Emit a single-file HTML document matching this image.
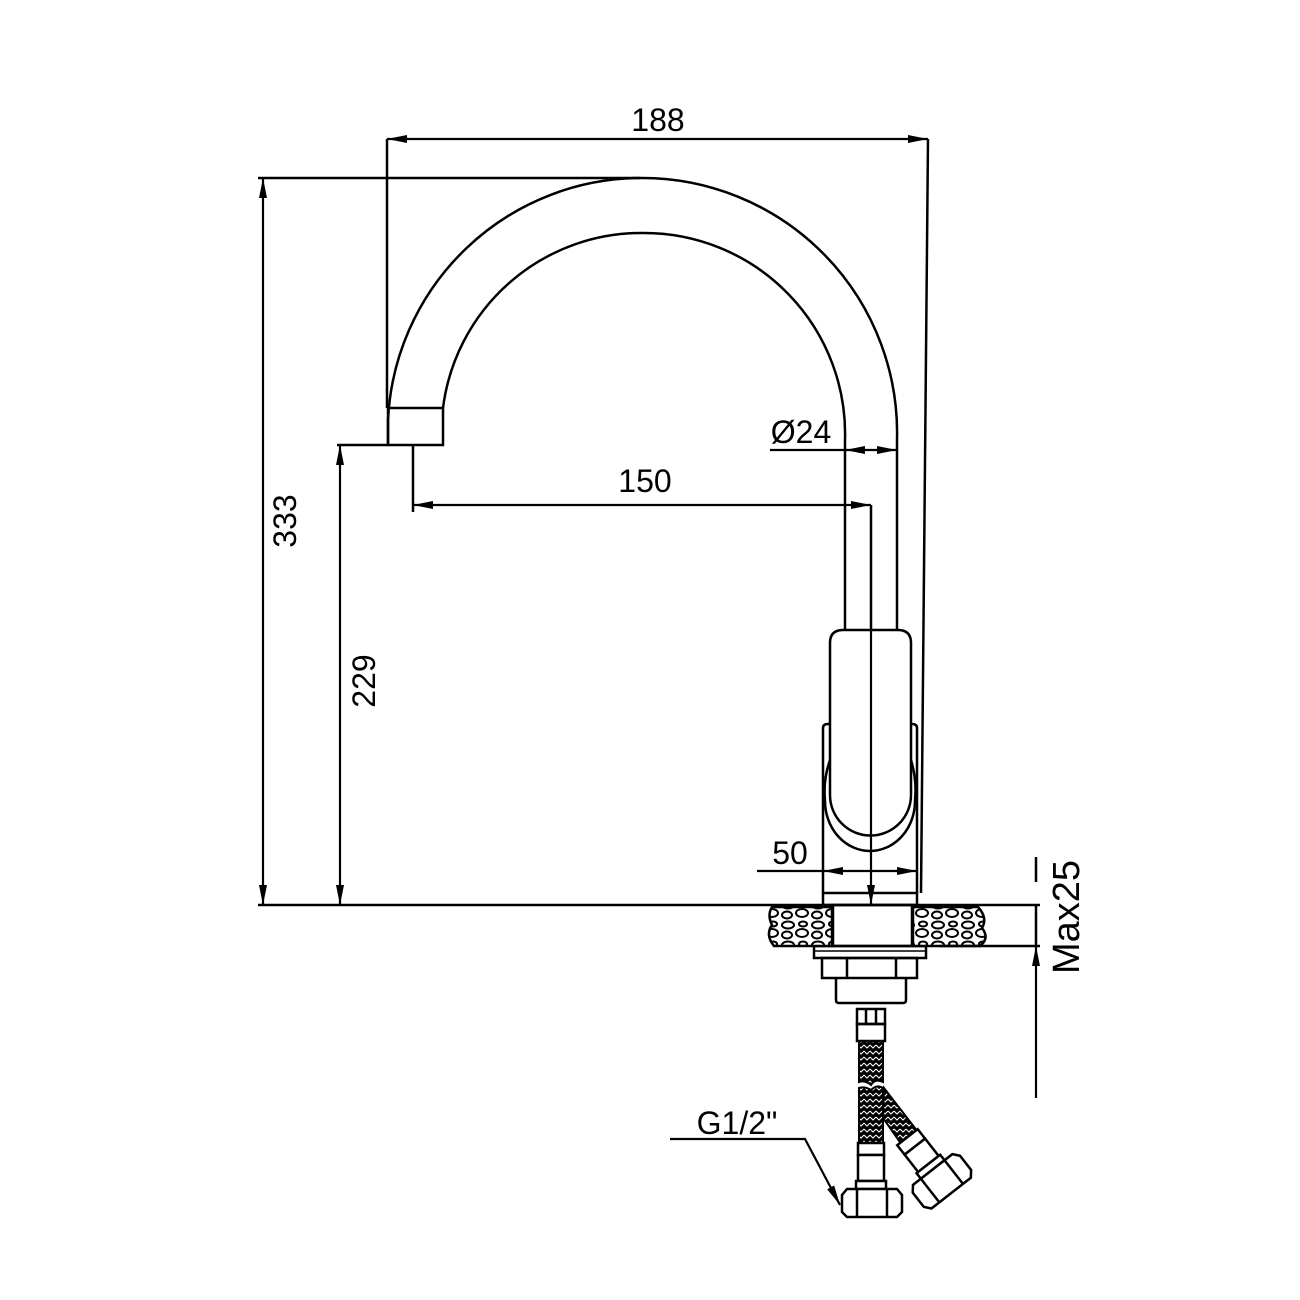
<!DOCTYPE html>
<html><head><meta charset="utf-8"><style>
html,body{margin:0;padding:0;background:#fff;}
svg{display:block;}
text{font-family:"Liberation Sans",sans-serif;fill:#000;}
</style></head><body>
<svg width="1300" height="1300" viewBox="0 0 1300 1300" xmlns="http://www.w3.org/2000/svg">
<defs>
<marker id="a" viewBox="0 0 20 8" refX="20" refY="4" markerWidth="20" markerHeight="8" markerUnits="userSpaceOnUse" orient="auto-start-reverse"><path d="M0,0 L20,4 L0,8 z" fill="#000"/></marker>
<pattern id="stone" width="30" height="20" patternUnits="userSpaceOnUse">
<rect width="30" height="20" fill="#fff"/>
<g fill="none" stroke="#000" stroke-width="2">
<ellipse cx="8" cy="5" rx="6" ry="3.5"/><ellipse cx="22" cy="13" rx="6" ry="4"/><ellipse cx="23" cy="4" rx="4" ry="2.5"/><ellipse cx="7" cy="15" rx="5" ry="3.5"/>
</g>
</pattern>
<pattern id="braid" width="6" height="6" patternUnits="userSpaceOnUse">
<rect width="6" height="6" fill="#000"/><path d="M0,1 L3,4 L6,1" stroke="#fff" stroke-width="1" fill="none"/>
</pattern>
</defs>
<g fill="none" stroke="#000" stroke-width="2.5">
<path d="M388,445 L388,420 A254,254 0 0 1 642,178 A255,255 0 0 1 897,440 L897,630"/>
<path d="M443,408 A200,200 0 0 1 644,233 A201,201 0 0 1 845,440 L845,630"/>
<rect x="388" y="408" width="55" height="37"/>
<path d="M830,643 Q830,630 843,630 L898,630 Q911,630 911,643 L911,795 A40.5,40.5 0 0 1 830,795 Z"/>
<path d="M823,893 L823,728 Q823,724 828,724 L830,724"/>
<path d="M917,893 L917,728 Q917,724 912,724 L911,724"/>
<path d="M830,760 Q823,780 825,800 A45,50 0 0 0 870,851 A45,50 0 0 0 915,800 Q917,780 911,760"/>
<rect x="823" y="893" width="94" height="12"/>
<rect x="833" y="905" width="79" height="41"/>
<rect x="814" y="946" width="112" height="12"/>
<line x1="814" y1="951" x2="926" y2="951" stroke-width="1.5"/>
<rect x="822" y="958" width="95" height="20"/>
<line x1="847" y1="958" x2="847" y2="978"/><line x1="896" y1="958" x2="896" y2="978"/>
<path d="M836,978 L836,1000 Q836,1003 839,1003 L903,1003 Q906,1003 906,1000 L906,978"/>
<rect x="857" y="1009" width="28" height="15"/>
<line x1="866" y1="1009" x2="866" y2="1024"/><line x1="876" y1="1009" x2="876" y2="1024"/>
<rect x="857" y="1024" width="28" height="17"/>
</g>
<path d="M772,907 L832,907 L832,946 L774,946 Q765,935 772,925 Q767,915 772,907 Z" fill="url(#stone)" stroke="#000" stroke-width="2.5"/>
<path d="M913,907 L978,907 Q988,918 982,928 Q990,938 980,946 L913,946 Z" fill="url(#stone)" stroke="#000" stroke-width="2.5"/>
<path d="M859,1041 L883,1041 L883,1082 Q875,1078 871,1085 Q865,1080 859,1082 Z" fill="url(#braid)" stroke="#000" stroke-width="2"/>
<path d="M859,1088 Q865,1086 871,1090 Q877,1084 883,1088 L883,1143 L859,1143 Z" fill="url(#braid)" stroke="#000" stroke-width="2"/>
<path d="M884,1088 L918,1132 L902,1145 L883,1118 Z" fill="url(#braid)" stroke="#000" stroke-width="2"/>
<g fill="#fff" stroke="#000" stroke-width="2.5">
<rect x="858" y="1143" width="26" height="12"/>
<rect x="858" y="1155" width="26" height="26"/>
<rect x="856" y="1181" width="30" height="8"/>
<path d="M847,1189 L897,1189 L902,1195 L902,1212 L897,1217 L847,1217 L842,1212 L842,1195 Z"/>
<line x1="857" y1="1189" x2="857" y2="1217"/><line x1="887" y1="1189" x2="887" y2="1217"/>
<g transform="translate(937,1175) rotate(-38)">
<rect x="-13" y="-48" width="26" height="12"/>
<rect x="-13" y="-36" width="26" height="22"/>
<rect x="-15" y="-14" width="30" height="7"/>
<path d="M-25,-7 L25,-7 L30,-1 L30,17 L25,23 L-25,23 L-30,17 L-30,-1 Z"/>
<line x1="-15" y1="-7" x2="-15" y2="23"/><line x1="15" y1="-7" x2="15" y2="23"/>
</g>
</g>
<g fill="none" stroke="#000" stroke-width="2.5">
<line x1="258" y1="178" x2="640" y2="178"/>
<line x1="258" y1="905" x2="1040" y2="905"/>
<line x1="940" y1="946" x2="1040" y2="946"/>
<line x1="387" y1="139" x2="387" y2="408"/>
<line x1="928" y1="139" x2="921" y2="893"/>
<line x1="337" y1="445" x2="388" y2="445"/>
<line x1="413" y1="445" x2="413" y2="512"/>
<line x1="871" y1="505" x2="871" y2="630"/>
<line x1="1036" y1="857" x2="1036" y2="882"/>
<line x1="1036" y1="905" x2="1036" y2="946"/>
</g>
<g fill="none" stroke="#000" stroke-width="2.2">
<line x1="387" y1="139" x2="928" y2="139" marker-start="url(#a)" marker-end="url(#a)"/>
<line x1="263" y1="178" x2="263" y2="905" marker-start="url(#a)" marker-end="url(#a)"/>
<line x1="340" y1="445" x2="340" y2="905" marker-start="url(#a)" marker-end="url(#a)"/>
<line x1="413" y1="505" x2="871" y2="505" marker-start="url(#a)" marker-end="url(#a)"/>
<line x1="871" y1="630" x2="871" y2="905" marker-end="url(#a)"/>
<line x1="770" y1="450" x2="845" y2="450"/>
<line x1="845" y1="450" x2="871" y2="450" marker-start="url(#a)"/>
<line x1="871" y1="450" x2="897" y2="450" marker-end="url(#a)"/>
<line x1="757" y1="871" x2="823" y2="871"/>
<line x1="823" y1="871" x2="870" y2="871" marker-start="url(#a)"/>
<line x1="870" y1="871" x2="917" y2="871" marker-end="url(#a)"/>
<line x1="1036" y1="1098" x2="1036" y2="946" marker-end="url(#a)"/>
<polyline points="670,1139 805,1139 840,1205" marker-end="url(#a)"/>
</g>
<g font-size="32">
<text x="658" y="131" text-anchor="middle">188</text>
<text x="645" y="492" text-anchor="middle">150</text>
<text x="801" y="443" text-anchor="middle">Ø24</text>
<text x="790" y="864" text-anchor="middle">50</text>
<text x="737" y="1134" text-anchor="middle">G1/2"</text>
<text transform="translate(296,521) rotate(-90)" text-anchor="middle">333</text>
<text transform="translate(375,681) rotate(-90)" text-anchor="middle">229</text>
<text transform="translate(1079,917) rotate(-90)" text-anchor="middle" font-size="38">Max25</text>
</g>
</svg>
</body></html>
